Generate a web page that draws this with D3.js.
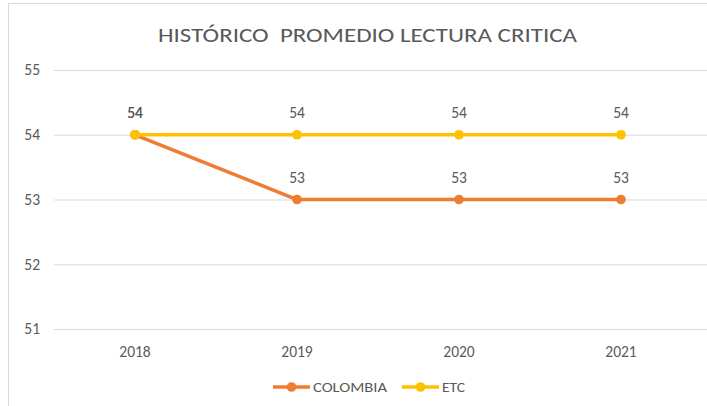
<!DOCTYPE html>
<html><head><meta charset="utf-8">
<script src="https://cdn.jsdelivr.net/npm/d3@7"></script>
<style>body{margin:0;background:#fff}svg{display:block}text{font-family:Carlito,Lato,"Liberation Sans",sans-serif;fill:#595959;white-space:pre}</style>
</head><body><svg id="c" width="707" height="406"></svg>
<script>
const categories = ["2018","2019","2020","2021"];
const colombia = [54,53,53,53];
const etc = [54,54,54,54];
const yTicks = [51,52,53,54,55];
const title = "HISTÓRICO  PROMEDIO LECTURA CRITICA";
const series = [
  {name:"COLOMBIA", values:colombia, color:"#ED7D31"},
  {name:"ETC", values:etc, color:"#FFC000"}
];
const svg = d3.select("#c");
svg.append("path").attr("d","M8.5,406 V3.5 H707").attr("fill","none").attr("stroke","#d9d9d9").attr("stroke-width",1);
const x = d3.scaleBand().domain(categories).range([54,702]);
const y = d3.scaleLinear().domain([51,55]).range([329,70]);
svg.append("text").attr("x",158).attr("y",42).attr("font-size",20.5)
  .attr("textLength",419).attr("lengthAdjust","spacingAndGlyphs").text(title);
const yAxis = svg.append("g").attr("transform","translate(54,0)")
  .call(d3.axisLeft(y).tickValues(yTicks).tickSize(-660).tickPadding(14).tickFormat(d3.format("d")));
yAxis.select(".domain").remove();
yAxis.selectAll("line").attr("stroke","#d9d9d9").attr("stroke-width",1);
yAxis.selectAll("text").attr("font-size",15.5).attr("fill","#595959");
const xAxis = svg.append("g").attr("transform","translate(0,329)")
  .call(d3.axisBottom(x).tickSize(0).tickPadding(16.5));
xAxis.select(".domain").remove();
xAxis.selectAll("text").attr("font-size",15.5).attr("fill","#595959");
const line = d3.line().x((d,i)=>x(categories[i])+x.bandwidth()/2).y(d=>y(d));
series.forEach(s=>{
  const g = svg.append("g");
  g.append("path").attr("d",line(s.values)).attr("fill","none").attr("stroke",s.color).attr("stroke-width",3.5).attr("stroke-linejoin","round");
  g.selectAll("circle").data(s.values).join("circle")
    .attr("cx",(d,i)=>x(categories[i])+x.bandwidth()/2).attr("cy",d=>y(d)).attr("r",4.8).attr("fill",s.color);
  g.selectAll("text.lbl").data(s.values).join("text").attr("class","lbl")
    .attr("x",(d,i)=>x(categories[i])+x.bandwidth()/2).attr("y",d=>y(d)-17)
    .attr("text-anchor","middle").attr("font-size",15.5).text(d=>d);
});
const lg = svg.append("g");
const legPos = [273,402];
const legW = [74,23];
series.forEach((s,i)=>{
  const lx = legPos[i];
  lg.append("line").attr("x1",lx).attr("x2",lx+37).attr("y1",387).attr("y2",387).attr("stroke",s.color).attr("stroke-width",3.5);
  lg.append("circle").attr("cx",lx+18.5).attr("cy",387).attr("r",4.8).attr("fill",s.color);
  lg.append("text").attr("x",lx+40).attr("y",392).attr("font-size",14)
    .attr("textLength",legW[i]).attr("lengthAdjust","spacingAndGlyphs").text(s.name);
});
</script></body></html>
